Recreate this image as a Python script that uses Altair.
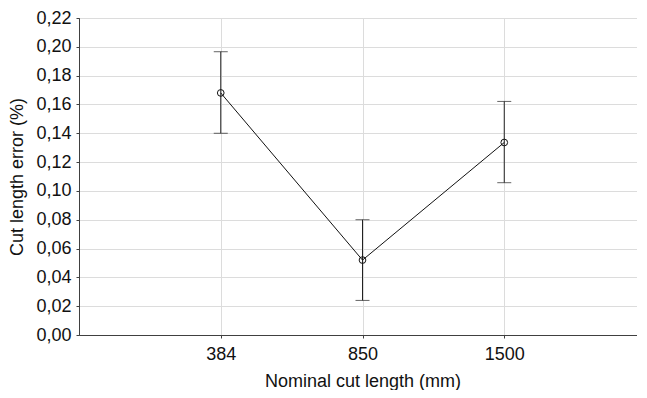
import altair as alt
import pandas as pd

lengths = ["384", "850", "1500"]
means = [0.168, 0.052, 0.1336]
upper = [0.1966, 0.080, 0.1621]
lower = [0.140, 0.024, 0.1057]
y_ticks = [0.00, 0.02, 0.04, 0.06, 0.08, 0.10, 0.12, 0.14, 0.16, 0.18, 0.20, 0.22]

df = pd.DataFrame({"length": lengths, "mean": means, "upper": upper, "lower": lower})

FONT = "Liberation Sans"
FS = 18

x_enc = alt.X(
    "length:O",
    sort=lengths,
    scale=alt.Scale(type="point", padding=1, range=[0, 567]),
    axis=alt.Axis(
        title="Nominal cut length (mm)",
        labelAngle=0,
        grid=True,
        gridColor="#dcdcdc",
        domainColor="#404040",
        tickColor="#404040",
        tickSize=3,
        labelPadding=7,
        titlePadding=9,
    ),
)
y_scale = alt.Scale(domain=[0, 0.22], nice=False, zero=True)
y_axis = alt.Axis(
    title="Cut length error (%)",
    values=y_ticks,
    labelOverlap=False,
    labelExpr="replace(format(datum.value, '.2f'), '.', ',')",
    grid=True,
    gridColor="#dcdcdc",
    domainColor="#404040",
    tickColor="#404040",
    tickSize=3,
    labelPadding=5,
    titlePadding=9,
)

def yq(field):
    return alt.Y(field, type="quantitative", scale=y_scale, axis=y_axis)

base = alt.Chart(df)

rules = base.mark_rule(color="#222222", strokeWidth=1).encode(
    x=x_enc, y=yq("lower"), y2="upper:Q"
)
cap_hi = base.mark_tick(color="#222222", thickness=1, size=14).encode(
    x=x_enc, y=yq("upper")
)
cap_lo = base.mark_tick(color="#222222", thickness=1, size=14).encode(
    x=x_enc, y=yq("lower")
)
line = base.mark_line(color="#111111", strokeWidth=1).encode(
    x=x_enc, y=yq("mean")
)
pts = base.mark_point(shape="circle", filled=False, color="#111111", size=45, strokeWidth=1, opacity=1).encode(
    x=x_enc, y=yq("mean")
)

chart = (
    alt.layer(rules, cap_hi, cap_lo, line, pts)
    .properties(
        width=558,
        height=317,
        autosize=alt.AutoSizeParams(type="none"),
        padding={"left": 71, "top": 10, "right": 0, "bottom": 55},
        background="white",
    )
    .configure_view(stroke="#111111", strokeWidth=1)
    .configure_axis(
        labelFont=FONT,
        titleFont=FONT,
        labelFontSize=FS,
        titleFontSize=FS,
        labelColor="#111111",
        titleColor="#111111",
        titleFontWeight="normal",
    )
)

chart.save("out.html", embed_options={"renderer": "svg", "actions": False})
